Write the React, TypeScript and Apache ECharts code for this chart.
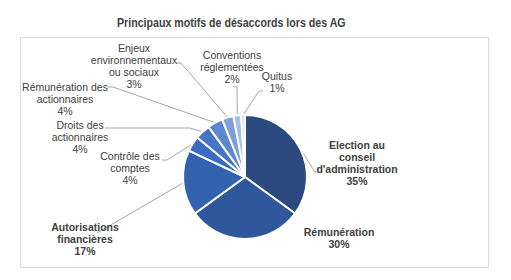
import React, { useEffect, useRef } from "react";
import * as echarts from "echarts";

const titleText = "Principaux motifs de désaccords lors des AG";
const categories = [
  "Election au\nconseil\nd'administration",
  "Rémunération",
  "Autorisations\nfinancières",
  "Contrôle des\ncomptes",
  "Droits des\nactionnaires",
  "Rémunération des\nactionnaires",
  "Enjeux\nenvironnementaux\nou sociaux",
  "Conventions\nréglementées",
  "Quitus",
];
const values = [35, 30, 17, 4, 4, 4, 3, 2, 1];
const boldLabel = [true, true, true, false, false, false, false, false, false];
const colors = [
  "#2C4A7F",
  "#2F579B",
  "#3462B1",
  "#3A6BC2",
  "#4575C9",
  "#5E87D0",
  "#7F9FD9",
  "#A7BEE4",
  "#D3DEF1",
];

// label placement: center x/y, line end (ex,ey), elbow (bx,by); null = no line
const labelPlacement = [
  { x: 357, y: 163, ex: 318, ey: 172, bx: 315, by: 172 },
  { x: 339, y: 238, ex: null, ey: null, bx: null, by: null },
  { x: 85, y: 239, ex: 97, ey: 233, bx: 97, by: 233 },
  { x: 130, y: 168, ex: 162, ey: 160, bx: 167, by: 160 },
  { x: 80, y: 137, ex: 105, ey: 128, bx: 190, by: 128 },
  { x: 65, y: 99, ex: 108, ey: 87, bx: 113, by: 87 },
  { x: 134, y: 66, ex: 176, ey: 63, bx: 181, by: 63 },
  { x: 232, y: 67, ex: 233, ey: 86, bx: 237, by: 87 },
  { x: 277, y: 82, ex: 263, ey: 91, bx: 259, by: 91 },
];

export default function App() {
  const ref = useRef<HTMLDivElement>(null);
  useEffect(() => {
    if (!ref.current) return;
    const chart = echarts.init(ref.current, null, { renderer: "svg" });
    const data = categories.map((name, i) => ({
      name,
      value: values[i],
      itemStyle: { color: colors[i] },
      label: { fontWeight: boldLabel[i] ? "bold" : "normal" },
      labelLine: { show: labelPlacement[i].ex !== null },
    }));
    chart.setOption({
      animation: false,
      backgroundColor: "#ffffff",
      graphic: [
        {
          type: "rect",
          shape: { x: 20.5, y: 37.5, width: 468, height: 230 },
          style: { fill: "none", stroke: "#d9d9d9", lineWidth: 1 },
          silent: true,
        },
        {
          type: "text",
          x: 117,
          y: 22,
          scaleX: 0.85,
          style: {
            text: titleText,
            fontFamily: "Liberation Sans, Arial, sans-serif",
            fontSize: 12.5,
            fontWeight: "bold",
            fill: "#404040",
            verticalAlign: "middle",
          },
          silent: true,
        },
      ],
      series: [
        {
          type: "pie",
          center: [245, 177],
          radius: 62,
          startAngle: 90,
          clockwise: true,
          itemStyle: { borderColor: "#ffffff", borderWidth: 2 },
          label: {
            show: true,
            position: "outside",
            formatter: "{b}\n{c}%",
            fontFamily: "Liberation Sans, Arial, sans-serif",
            fontSize: 10.5,
            lineHeight: 12,
            color: "#404040",
            align: "center",
          },
          labelLine: {
            show: true,
            lineStyle: { color: "#a6a6a6", width: 1 },
          },
          labelLayout: (params: any) => {
            const p = labelPlacement[params.dataIndex];
            const res: any = {
              x: p.x,
              y: p.y,
              align: "center",
              verticalAlign: "middle",
            };
            if (p.ex !== null && params.labelLinePoints) {
              const s = params.labelLinePoints[0];
              res.labelLinePoints = [s, [p.bx, p.by], [p.ex, p.ey]];
            }
            return res;
          },
          data,
        },
      ],
    });
    return () => chart.dispose();
  }, []);
  return (
    <div
      ref={ref}
      style={{ position: "fixed", left: 0, top: 0, width: 511, height: 280 }}
    />
  );
}
